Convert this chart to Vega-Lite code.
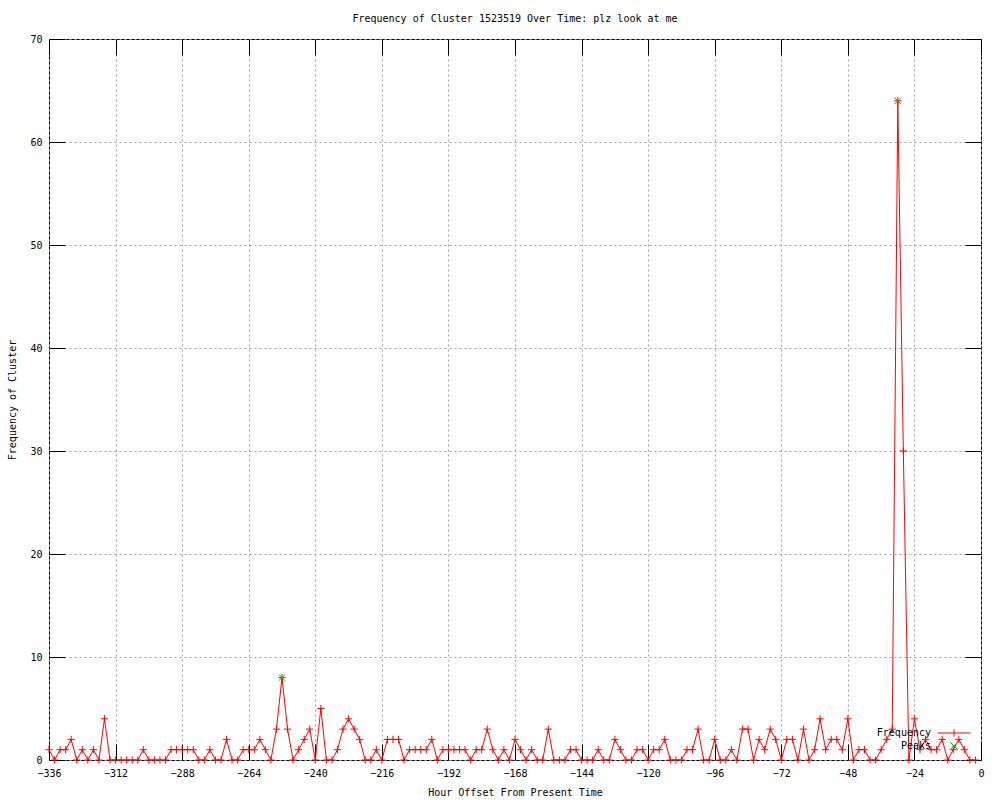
{
  "$schema": "https://vega.github.io/schema/vega-lite/v6.json",
  "autosize": {"type": "none"},
  "padding": {"left": 49, "top": 39, "right": 19, "bottom": 41},
  "width": 932,
  "height": 721,
  "background": "white",
  "title": {"text": "Frequency of Cluster 1523519 Over Time: plz look at me", "font": "DejaVu Sans Mono", "fontSize": 10, "fontWeight": "normal", "color": "black", "offset": 10},
  "config": {
    "view": {"stroke": "black", "strokeWidth": 1},
    "font": "DejaVu Sans Mono",
    "axis": {"labelFont": "DejaVu Sans Mono", "labelFontSize": 10, "labelColor": "black", "titleFont": "DejaVu Sans Mono", "titleFontSize": 10, "titleFontWeight": "normal", "titleColor": "black", "domain": false, "tickColor": "black", "tickWidth": 1, "gridColor": "#a0a0a0", "gridDash": [2, 3], "gridWidth": 1, "gridOpacity": 1},
    "legend": {"labelFont": "DejaVu Sans Mono", "labelFontSize": 10, "labelColor": "black", "padding": 0, "rowPadding": 0, "symbolStrokeWidth": 1}
  },
  "datasets": {
    "freq": [
      {"hour": -336, "freq": 1, "series": "Frequency"},
      {"hour": -334, "freq": 0, "series": "Frequency"},
      {"hour": -332, "freq": 1, "series": "Frequency"},
      {"hour": -330, "freq": 1, "series": "Frequency"},
      {"hour": -328, "freq": 2, "series": "Frequency"},
      {"hour": -326, "freq": 0, "series": "Frequency"},
      {"hour": -324, "freq": 1, "series": "Frequency"},
      {"hour": -322, "freq": 0, "series": "Frequency"},
      {"hour": -320, "freq": 1, "series": "Frequency"},
      {"hour": -318, "freq": 0, "series": "Frequency"},
      {"hour": -316, "freq": 4, "series": "Frequency"},
      {"hour": -314, "freq": 0, "series": "Frequency"},
      {"hour": -312, "freq": 0, "series": "Frequency"},
      {"hour": -310, "freq": 0, "series": "Frequency"},
      {"hour": -308, "freq": 0, "series": "Frequency"},
      {"hour": -306, "freq": 0, "series": "Frequency"},
      {"hour": -304, "freq": 0, "series": "Frequency"},
      {"hour": -302, "freq": 1, "series": "Frequency"},
      {"hour": -300, "freq": 0, "series": "Frequency"},
      {"hour": -298, "freq": 0, "series": "Frequency"},
      {"hour": -296, "freq": 0, "series": "Frequency"},
      {"hour": -294, "freq": 0, "series": "Frequency"},
      {"hour": -292, "freq": 1, "series": "Frequency"},
      {"hour": -290, "freq": 1, "series": "Frequency"},
      {"hour": -288, "freq": 1, "series": "Frequency"},
      {"hour": -286, "freq": 1, "series": "Frequency"},
      {"hour": -284, "freq": 1, "series": "Frequency"},
      {"hour": -282, "freq": 0, "series": "Frequency"},
      {"hour": -280, "freq": 0, "series": "Frequency"},
      {"hour": -278, "freq": 1, "series": "Frequency"},
      {"hour": -276, "freq": 0, "series": "Frequency"},
      {"hour": -274, "freq": 0, "series": "Frequency"},
      {"hour": -272, "freq": 2, "series": "Frequency"},
      {"hour": -270, "freq": 0, "series": "Frequency"},
      {"hour": -268, "freq": 0, "series": "Frequency"},
      {"hour": -266, "freq": 1, "series": "Frequency"},
      {"hour": -264, "freq": 1, "series": "Frequency"},
      {"hour": -262, "freq": 1, "series": "Frequency"},
      {"hour": -260, "freq": 2, "series": "Frequency"},
      {"hour": -258, "freq": 1, "series": "Frequency"},
      {"hour": -256, "freq": 0, "series": "Frequency"},
      {"hour": -254, "freq": 3, "series": "Frequency"},
      {"hour": -252, "freq": 8, "series": "Frequency"},
      {"hour": -250, "freq": 3, "series": "Frequency"},
      {"hour": -248, "freq": 0, "series": "Frequency"},
      {"hour": -246, "freq": 1, "series": "Frequency"},
      {"hour": -244, "freq": 2, "series": "Frequency"},
      {"hour": -242, "freq": 3, "series": "Frequency"},
      {"hour": -240, "freq": 0, "series": "Frequency"},
      {"hour": -238, "freq": 5, "series": "Frequency"},
      {"hour": -236, "freq": 0, "series": "Frequency"},
      {"hour": -234, "freq": 0, "series": "Frequency"},
      {"hour": -232, "freq": 1, "series": "Frequency"},
      {"hour": -230, "freq": 3, "series": "Frequency"},
      {"hour": -228, "freq": 4, "series": "Frequency"},
      {"hour": -226, "freq": 3, "series": "Frequency"},
      {"hour": -224, "freq": 2, "series": "Frequency"},
      {"hour": -222, "freq": 0, "series": "Frequency"},
      {"hour": -220, "freq": 0, "series": "Frequency"},
      {"hour": -218, "freq": 1, "series": "Frequency"},
      {"hour": -216, "freq": 0, "series": "Frequency"},
      {"hour": -214, "freq": 2, "series": "Frequency"},
      {"hour": -212, "freq": 2, "series": "Frequency"},
      {"hour": -210, "freq": 2, "series": "Frequency"},
      {"hour": -208, "freq": 0, "series": "Frequency"},
      {"hour": -206, "freq": 1, "series": "Frequency"},
      {"hour": -204, "freq": 1, "series": "Frequency"},
      {"hour": -202, "freq": 1, "series": "Frequency"},
      {"hour": -200, "freq": 1, "series": "Frequency"},
      {"hour": -198, "freq": 2, "series": "Frequency"},
      {"hour": -196, "freq": 0, "series": "Frequency"},
      {"hour": -194, "freq": 1, "series": "Frequency"},
      {"hour": -192, "freq": 1, "series": "Frequency"},
      {"hour": -190, "freq": 1, "series": "Frequency"},
      {"hour": -188, "freq": 1, "series": "Frequency"},
      {"hour": -186, "freq": 1, "series": "Frequency"},
      {"hour": -184, "freq": 0, "series": "Frequency"},
      {"hour": -182, "freq": 1, "series": "Frequency"},
      {"hour": -180, "freq": 1, "series": "Frequency"},
      {"hour": -178, "freq": 3, "series": "Frequency"},
      {"hour": -176, "freq": 1, "series": "Frequency"},
      {"hour": -174, "freq": 0, "series": "Frequency"},
      {"hour": -172, "freq": 1, "series": "Frequency"},
      {"hour": -170, "freq": 0, "series": "Frequency"},
      {"hour": -168, "freq": 2, "series": "Frequency"},
      {"hour": -166, "freq": 1, "series": "Frequency"},
      {"hour": -164, "freq": 0, "series": "Frequency"},
      {"hour": -162, "freq": 1, "series": "Frequency"},
      {"hour": -160, "freq": 0, "series": "Frequency"},
      {"hour": -158, "freq": 0, "series": "Frequency"},
      {"hour": -156, "freq": 3, "series": "Frequency"},
      {"hour": -154, "freq": 0, "series": "Frequency"},
      {"hour": -152, "freq": 0, "series": "Frequency"},
      {"hour": -150, "freq": 0, "series": "Frequency"},
      {"hour": -148, "freq": 1, "series": "Frequency"},
      {"hour": -146, "freq": 1, "series": "Frequency"},
      {"hour": -144, "freq": 0, "series": "Frequency"},
      {"hour": -142, "freq": 0, "series": "Frequency"},
      {"hour": -140, "freq": 0, "series": "Frequency"},
      {"hour": -138, "freq": 1, "series": "Frequency"},
      {"hour": -136, "freq": 0, "series": "Frequency"},
      {"hour": -134, "freq": 0, "series": "Frequency"},
      {"hour": -132, "freq": 2, "series": "Frequency"},
      {"hour": -130, "freq": 1, "series": "Frequency"},
      {"hour": -128, "freq": 0, "series": "Frequency"},
      {"hour": -126, "freq": 0, "series": "Frequency"},
      {"hour": -124, "freq": 1, "series": "Frequency"},
      {"hour": -122, "freq": 1, "series": "Frequency"},
      {"hour": -120, "freq": 0, "series": "Frequency"},
      {"hour": -118, "freq": 1, "series": "Frequency"},
      {"hour": -116, "freq": 1, "series": "Frequency"},
      {"hour": -114, "freq": 2, "series": "Frequency"},
      {"hour": -112, "freq": 0, "series": "Frequency"},
      {"hour": -110, "freq": 0, "series": "Frequency"},
      {"hour": -108, "freq": 0, "series": "Frequency"},
      {"hour": -106, "freq": 1, "series": "Frequency"},
      {"hour": -104, "freq": 1, "series": "Frequency"},
      {"hour": -102, "freq": 3, "series": "Frequency"},
      {"hour": -100, "freq": 0, "series": "Frequency"},
      {"hour": -98, "freq": 0, "series": "Frequency"},
      {"hour": -96, "freq": 2, "series": "Frequency"},
      {"hour": -94, "freq": 0, "series": "Frequency"},
      {"hour": -92, "freq": 0, "series": "Frequency"},
      {"hour": -90, "freq": 1, "series": "Frequency"},
      {"hour": -88, "freq": 0, "series": "Frequency"},
      {"hour": -86, "freq": 3, "series": "Frequency"},
      {"hour": -84, "freq": 3, "series": "Frequency"},
      {"hour": -82, "freq": 0, "series": "Frequency"},
      {"hour": -80, "freq": 2, "series": "Frequency"},
      {"hour": -78, "freq": 1, "series": "Frequency"},
      {"hour": -76, "freq": 3, "series": "Frequency"},
      {"hour": -74, "freq": 2, "series": "Frequency"},
      {"hour": -72, "freq": 0, "series": "Frequency"},
      {"hour": -70, "freq": 2, "series": "Frequency"},
      {"hour": -68, "freq": 2, "series": "Frequency"},
      {"hour": -66, "freq": 0, "series": "Frequency"},
      {"hour": -64, "freq": 3, "series": "Frequency"},
      {"hour": -62, "freq": 0, "series": "Frequency"},
      {"hour": -60, "freq": 1, "series": "Frequency"},
      {"hour": -58, "freq": 4, "series": "Frequency"},
      {"hour": -56, "freq": 1, "series": "Frequency"},
      {"hour": -54, "freq": 2, "series": "Frequency"},
      {"hour": -52, "freq": 2, "series": "Frequency"},
      {"hour": -50, "freq": 1, "series": "Frequency"},
      {"hour": -48, "freq": 4, "series": "Frequency"},
      {"hour": -46, "freq": 0, "series": "Frequency"},
      {"hour": -44, "freq": 1, "series": "Frequency"},
      {"hour": -42, "freq": 1, "series": "Frequency"},
      {"hour": -40, "freq": 0, "series": "Frequency"},
      {"hour": -38, "freq": 0, "series": "Frequency"},
      {"hour": -36, "freq": 1, "series": "Frequency"},
      {"hour": -34, "freq": 2, "series": "Frequency"},
      {"hour": -32, "freq": 3, "series": "Frequency"},
      {"hour": -30, "freq": 64, "series": "Frequency"},
      {"hour": -28, "freq": 30, "series": "Frequency"},
      {"hour": -26, "freq": 0, "series": "Frequency"},
      {"hour": -24, "freq": 4, "series": "Frequency"},
      {"hour": -22, "freq": 1, "series": "Frequency"},
      {"hour": -20, "freq": 2, "series": "Frequency"},
      {"hour": -18, "freq": 1, "series": "Frequency"},
      {"hour": -16, "freq": 1, "series": "Frequency"},
      {"hour": -14, "freq": 2, "series": "Frequency"},
      {"hour": -12, "freq": 0, "series": "Frequency"},
      {"hour": -10, "freq": 1, "series": "Frequency"},
      {"hour": -8, "freq": 2, "series": "Frequency"},
      {"hour": -6, "freq": 1, "series": "Frequency"},
      {"hour": -4, "freq": 0, "series": "Frequency"},
      {"hour": -2, "freq": 0, "series": "Frequency"}
    ],
    "peaks": [
      {"hour": -252, "freq": 8, "series": "Peaks"},
      {"hour": -30, "freq": 64, "series": "Peaks"}
    ]
  },
  "resolve": {"axis": {"x": "independent", "y": "independent"}},
  "layer": [
    {
      "data": {"name": "freq"},
      "mark": {"type": "line", "color": "#ff0000", "strokeWidth": 1, "clip": true},
      "encoding": {
        "x": {"field": "hour", "type": "quantitative", "scale": {"domain": [-336, 0], "nice": false, "zero": false},
          "axis": {"orient": "bottom", "values": [-336, -312, -288, -264, -240, -216, -192, -168, -144, -120, -96, -72, -48, -24, 0], "tickSize": -16, "labelPadding": 24, "labelFlush": false, "title": "Hour Offset From Present Time", "titlePadding": 9, "grid": true}},
        "y": {"field": "freq", "type": "quantitative", "scale": {"domain": [0, 70], "nice": false},
          "axis": {"orient": "left", "values": [0, 10, 20, 30, 40, 50, 60, 70], "tickSize": -16, "labelPadding": 23, "title": "Frequency of Cluster", "titlePadding": 12, "grid": true}}
      }
    },
    {
      "data": {"name": "freq"},
      "mark": {"type": "point", "filled": false, "strokeWidth": 1, "size": 52, "opacity": 1, "shape": "M-1,0L1,0M0,-1L0,1"},
      "encoding": {
        "x": {"field": "hour", "type": "quantitative", "axis": {"orient": "top", "values": [-336, -312, -288, -264, -240, -216, -192, -168, -144, -120, -96, -72, -48, -24, 0], "tickSize": -16, "labels": false, "title": null, "grid": false}},
        "y": {"field": "freq", "type": "quantitative", "axis": {"orient": "right", "values": [0, 10, 20, 30, 40, 50, 60, 70], "tickSize": -16, "labels": false, "title": null, "grid": false}},
        "stroke": {"field": "series", "type": "nominal", "scale": {"domain": ["Frequency"], "range": ["#ff0000"]},
          "legend": {"title": null, "orient": "none", "legendX": 888, "legendY": 677, "direction": "vertical", "symbolType": "M-1,0L1,0M0,-0.22L0,0.22", "symbolSize": 1089, "symbolFillColor": "transparent", "labelOffset": -40, "labelAlign": "right"}}
      }
    },
    {
      "data": {"name": "peaks"},
      "mark": {"type": "point", "filled": false, "strokeWidth": 1, "size": 40, "opacity": 1, "shape": "M-1,-1L1,1M-1,1L1,-1"},
      "encoding": {
        "x": {"field": "hour", "type": "quantitative", "axis": null},
        "y": {"field": "freq", "type": "quantitative", "axis": null},
        "color": {"field": "series", "type": "nominal", "scale": {"domain": ["Peaks"], "range": ["#00c000"]},
          "legend": {"title": null, "orient": "none", "legendX": 900, "legendY": 702, "direction": "vertical", "symbolType": "M-1,-1L1,1M-1,1L1,-1", "symbolSize": 52, "symbolFillColor": "transparent", "labelOffset": -28, "labelAlign": "right"}}
      }
    }
  ]
}
